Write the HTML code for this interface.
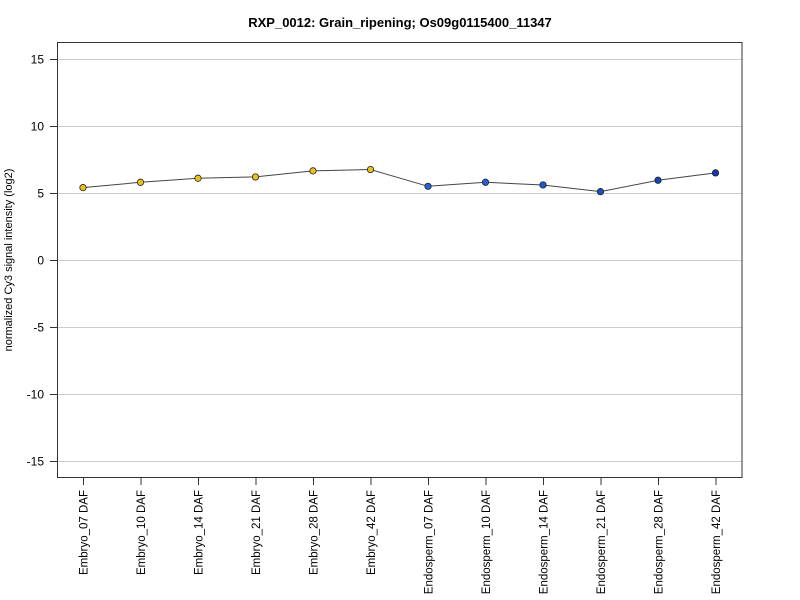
<!DOCTYPE html>
<html><head><meta charset="utf-8"><style>body{margin:0;background:#fff}svg{display:block}text{font-family:"Liberation Sans",Arial,sans-serif}</style></head>
<body>
<svg id="chart" width="800" height="600">
<text x="400" y="27" text-anchor="middle" font-size="13" font-weight="bold">RXP_0012: Grain_ripening; Os09g0115400_11347</text>
<text transform="translate(12,260) rotate(-90)" text-anchor="middle" font-size="11">normalized Cy3 signal intensity (log2)</text>
<g id="grid"></g><g id="axes"></g><g id="series"></g>
<rect x="57.5" y="42.5" width="684.5" height="435" fill="none" stroke="#333"/>
</svg>
<script>
const categories=["Embryo_07 DAF","Embryo_10 DAF","Embryo_14 DAF","Embryo_21 DAF","Embryo_28 DAF","Embryo_42 DAF","Endosperm_07 DAF","Endosperm_10 DAF","Endosperm_14 DAF","Endosperm_21 DAF","Endosperm_28 DAF","Endosperm_42 DAF"];
const values=[5.4,5.8,6.1,6.2,6.65,6.75,5.5,5.8,5.6,5.1,5.95,6.5];
const colors=["#e8c21a","#e8c21a","#e8c21a","#e8c21a","#e8c21a","#e8c21a","#2263d6","#2060d4","#1d58cc","#1a4ec2","#1744b6","#143aaa"];
const yTicks=[-15,-10,-5,0,5,10,15];
const NS="http://www.w3.org/2000/svg";
function x(i){return 83+i*57.5;}
function y(v){return 260-v*13.4;}
function mk(t,a,p){const e=document.createElementNS(NS,t);for(const k in a)e.setAttribute(k,a[k]);p.appendChild(e);return e;}
const grid=document.getElementById('grid'),axes=document.getElementById('axes'),ser=document.getElementById('series');
yTicks.forEach(v=>{
 const g=mk('line',{x1:57.5,x2:742,y1:y(v)+0.5,y2:y(v)+0.5,stroke:'#ccc'},grid);
 
 
 const t=mk('line',{x1:50,x2:57.5,y1:y(v)+0.5,y2:y(v)+0.5,stroke:'#333'},axes);
 
 
 const l=mk('text',{x:44,y:y(v)+4.5,'text-anchor':'end','font-size':12},axes);
 l.textContent=v;
 
 
});
categories.forEach((c,i)=>{
 const t=mk('line',{x1:x(i)+0.5,x2:x(i)+0.5,y1:477.5,y2:485,stroke:'#333'},axes);
 
 
 const l=mk('text',{transform:`translate(${x(i)+4.5},490) rotate(-90)`,'text-anchor':'end','font-size':11.5},axes);
 l.textContent=c;
 
 
});
const pl=mk('polyline',{points:values.map((v,i)=>x(i)+','+y(v)).join(' '),fill:'none',stroke:'#444','stroke-width':1},ser);


values.forEach((v,i)=>{
 const c=mk('circle',{cx:x(i),cy:y(v),r:3.2,fill:colors[i],stroke:'#222','stroke-width':0.8},ser);
 
 
});
</script>
</body></html>
